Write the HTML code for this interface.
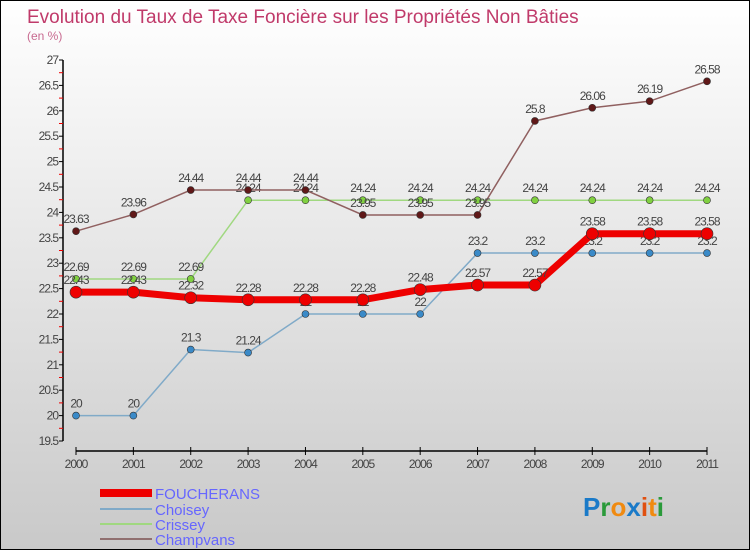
<!DOCTYPE html>
<html><head><meta charset="utf-8"><style>
body{margin:0}
#c{width:748px;height:548px;border:1px solid #000;background:linear-gradient(#fff,#c9c9c9);position:relative;overflow:hidden;font-family:"Liberation Sans",sans-serif}
</style></head><body>
<div id="c">
<svg id="s" width="748" height="548" style="position:absolute;left:0;top:0">
<text x="26" y="22" font-size="19" fill="#c03a6a">Evolution du Taux de Taxe Foncière sur les Propriétés Non Bâties</text>
<text x="26" y="39" font-size="12" fill="#c86a90">(en %)</text>
<g id="axes"></g><g id="series"></g>
<g>
<rect x="99" y="488" width="52" height="8" fill="#e00"/>
<text x="154" y="498" font-size="15" fill="#66f">FOUCHERANS</text>
<rect x="99" y="507" width="52" height="2" fill="#80aac8"/>
<text x="154" y="514" font-size="15" fill="#66f">Choisey</text>
<rect x="99" y="522" width="52" height="2" fill="#a0d880"/>
<text x="154" y="529" font-size="15" fill="#66f">Crissey</text>
<rect x="99" y="537" width="52" height="2" fill="#907070"/>
<text x="154" y="544" font-size="15" fill="#66f">Champvans</text>
</g>
<g font-size="26" font-weight="bold">
<text x="582" y="515"><tspan fill="#1a7ac8">P</tspan><tspan fill="#2a9a3a">r</tspan><tspan fill="#f08a10">o</tspan><tspan fill="#1a7ac8">x</tspan><tspan fill="#e05010">i</tspan><tspan fill="#f08a10">t</tspan><tspan fill="#2a9a3a">i</tspan></text>
</g>
</svg>
</div>
<script>
const years=["2000","2001","2002","2003","2004","2005","2006","2007","2008","2009","2010","2011"];
const yTicks=[19.5,20,20.5,21,21.5,22,22.5,23,23.5,24,24.5,25,25.5,26,26.5,27];
const foucherans=[22.43,22.43,22.32,22.28,22.28,22.28,22.48,22.57,22.57,23.58,23.58,23.58];
const choisey=[20,20,21.3,21.24,22,22,22,23.2,23.2,23.2,23.2,23.2];
const crissey=[22.69,22.69,22.69,24.24,24.24,24.24,24.24,24.24,24.24,24.24,24.24,24.24];
const champvans=[23.63,23.96,24.44,24.44,24.44,23.95,23.95,23.95,25.8,26.06,26.19,26.58];
const NS="http://www.w3.org/2000/svg";
const X=i=>75+i*(631/11);
const Y=v=>440-(v-19.5)*(381/7.5);
function mk(t,a,p){const e=document.createElementNS(NS,t);for(const k in a)e.setAttribute(k,a[k]);p.appendChild(e);return e;}
const ax=document.getElementById('axes');
let yl=mk('line',{x1:62,y1:Y(27),x2:62,y2:440,stroke:'#000','stroke-width':1.5},ax);


yTicks.forEach(v=>{
 mk('line',{x1:58,y1:Y(v),x2:62,y2:Y(v),stroke:'#000'},ax);
 if(v<27)mk('line',{x1:58,y1:Y(v+0.25),x2:62,y2:Y(v+0.25),stroke:'#e00'},ax);
 const t=mk('text',{x:57,y:Y(v)+4,'font-size':12,fill:'#444','text-anchor':'end','letter-spacing':'-1'},ax);
 t.textContent=String(v);
 
 
});
let xl=mk('line',{x1:75,y1:450,x2:706,y2:450,stroke:'#000','stroke-width':1.5},ax);


years.forEach((y,i)=>{
 mk('line',{x1:X(i),y1:446,x2:X(i),y2:454,stroke:'#000'},ax);
 const t=mk('text',{x:X(i),y:467,'font-size':12,fill:'#444','text-anchor':'middle','letter-spacing':'-1'},ax);
 t.textContent=y;
 
 
});
const sg=document.getElementById('series');
function series(name,data,color,w,r,fill){
 const g=mk('g',{},sg);
 
 
 const p=mk('polyline',{points:data.map((v,i)=>X(i)+','+Y(v)).join(' '),fill:'none',stroke:color,'stroke-width':w},g);
 
 
 data.forEach((v,i)=>{
  const c=mk('circle',{cx:X(i),cy:Y(v),r:r,fill:fill,stroke:'#333','stroke-width':0.6},g);
  
  
  const t=mk('text',{x:X(i),y:Y(v)-8,'font-size':12,fill:'#444','text-anchor':'middle','letter-spacing':'-1'},g);
  t.textContent=String(v);
  
  
 });
}
series('crissey',crissey,'#a0d880',1.5,3.5,'#80d040');
series('choisey',choisey,'#80aac8',1.5,3.5,'#3a8ac8');
series('champvans',champvans,'#906060',1.5,3.5,'#601818');
series('foucherans',foucherans,'#ee0000',7,6,'#ee0000');
</script>
</body></html>
